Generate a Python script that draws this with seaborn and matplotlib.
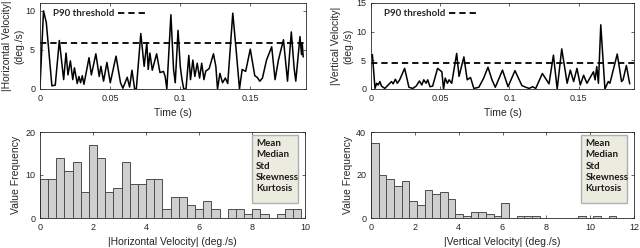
import numpy as np
import pandas as pd
import matplotlib
matplotlib.use('Agg')
import matplotlib.pyplot as plt
from matplotlib.patches import Rectangle
import seaborn as sns

# ---- data ----
# |Horizontal velocity| vs time
h_time = [0.0, 0.0025, 0.0045, 0.0085, 0.0109, 0.0138, 0.0169, 0.0186, 0.0200, 0.0217,
          0.0234, 0.0246, 0.0266, 0.0278, 0.0290, 0.0302, 0.0314, 0.0350, 0.0367, 0.0399,
          0.0423, 0.0435, 0.0454, 0.0478, 0.0502, 0.0543, 0.0575, 0.0592, 0.0623, 0.0640,
          0.0657, 0.0676, 0.0688, 0.0720, 0.0744, 0.0763, 0.0773, 0.0785, 0.0802, 0.0833,
          0.0857, 0.0882, 0.0894, 0.0906, 0.0935, 0.0954, 0.0966, 0.0986, 0.1002, 0.1014,
          0.1027, 0.1043, 0.1063, 0.1075, 0.1092, 0.1106, 0.1123, 0.1140, 0.1155, 0.1171,
          0.1184, 0.1208, 0.1239, 0.1256, 0.1268, 0.1285, 0.1304, 0.1324, 0.1341, 0.1377,
          0.1401, 0.1425, 0.1444, 0.1469, 0.1502, 0.1534, 0.1551, 0.1570, 0.1589, 0.1618,
          0.1655, 0.1679, 0.1703, 0.1739, 0.1768, 0.1795, 0.1815, 0.1827, 0.1857, 0.1868,
          0.1873, 0.1880]
h_vel = [0.2, 10.0, 8.5, 0.4, 0.5, 6.2, 1.2, 4.6, 1.8, 3.6,
         1.2, 2.7, 0.7, 1.6, 0.8, 1.7, 0.6, 4.0, 1.8, 4.5,
         1.6, 2.9, 1.0, 3.4, 0.8, 4.2, 0.8, 0.1, 1.5, 0.25,
         2.4, 0.0, 0.0, 7.1, 2.9, 5.9, 2.5, 4.6, 2.4, 4.5,
         2.1, 2.25, 1.6, 0.0, 9.5, 2.5, 0.8, 7.5, 2.9, 1.2,
         0.0, 0.0, 4.3, 1.2, 3.7, 1.6, 3.3, 1.4, 3.3, 1.2,
         2.3, 2.6, 4.5, 2.9, 0.0, 2.0, 0.8, 1.4, 0.7, 9.7,
         5.0, 0.0, 2.5, 2.25, 5.1, 1.7, 1.5, 1.0, 1.4, 3.7,
         5.4, 1.2, 3.7, 6.3, 1.0, 7.3, 2.7, 1.0, 6.7, 4.4,
         5.9, 4.1]
h_p90 = 5.85

# |Vertical velocity| vs time
v_time = [0.0, 0.0010, 0.0029, 0.0041, 0.0052, 0.0064, 0.0076, 0.0100, 0.0124, 0.0148,
          0.0160, 0.0176, 0.0190, 0.0207, 0.0243, 0.0274, 0.0302, 0.0326, 0.0350, 0.0367,
          0.0381, 0.0398, 0.0410, 0.0426, 0.0445, 0.0481, 0.0512, 0.0524, 0.0536, 0.0552,
          0.0564, 0.0583, 0.0619, 0.0636, 0.0671, 0.0695, 0.0719, 0.0743, 0.0779, 0.0814,
          0.0845, 0.0874, 0.0898, 0.0950, 0.0990, 0.1040, 0.1090, 0.1119, 0.1143, 0.1167,
          0.1190, 0.1238, 0.1286, 0.1318, 0.1345, 0.1378, 0.1417, 0.1440, 0.1464, 0.1488,
          0.1512, 0.1536, 0.1560, 0.1607, 0.1619, 0.1631, 0.1643, 0.1660, 0.1690, 0.1714,
          0.1726, 0.1779, 0.1810, 0.1821, 0.1845, 0.1869]
v_vel = [5.6, 6.0, 0.1, 1.0, 0.7, 1.3, 0.5, 0.1, 0.7, 1.3,
         0.9, 1.7, 1.0, 1.6, 3.6, 0.3, 0.1, 0.5, 1.4, 0.7,
         1.6, 1.0, 1.6, 0.4, 0.5, 3.6, 3.0, 0.0, 1.9, 1.0,
         1.6, 1.0, 6.2, 2.2, 5.6, 1.6, 2.0, 0.1, 0.3, 1.9,
         3.8, 1.6, 0.3, 3.3, 0.4, 3.2, 0.6, 0.3, 0.1, 0.4,
         0.1, 2.7, 0.9, 5.9, 0.0, 7.0, 1.0, 3.3, 1.3, 3.6,
         0.7, 2.4, 1.0, 3.0, 1.6, 3.9, 1.0, 11.2, 0.0, 1.3,
         1.0, 6.1, 1.3, 1.6, 4.1, 0.9]
v_p90 = 4.45

# histogram counts (32 bins each)
h_counts = [9, 9, 14, 11, 13, 6, 17, 14, 6, 7, 13, 8, 8, 9, 9, 2,
            5, 5, 3, 2, 4, 2, 0, 2, 2, 1, 2, 1, 0, 1, 2, 2]
h_bin_width = 0.308
v_counts = [35, 20, 18, 15, 17, 8, 6, 13, 11, 12, 9, 2, 1, 3, 3, 2,
            1, 7, 0, 1, 1, 1, 0, 0, 0, 0, 0, 1, 0, 1, 0, 1]
v_bin_width = 0.35

stats_names = ['Mean', 'Median', 'Std', 'Skewness', 'Kurtosis']

# ---- style ----
sns.set_style('ticks')
plt.rcParams['font.family'] = ['Liberation Sans', 'DejaVu Sans']
ink = '#262626'
plt.rcParams.update({
    'axes.edgecolor': ink, 'axes.linewidth': 0.6, 'axes.labelcolor': ink,
    'xtick.color': ink, 'ytick.color': ink,
    'xtick.direction': 'in', 'ytick.direction': 'in',
    'xtick.top': True, 'ytick.right': True,
    'xtick.major.size': 2.5, 'ytick.major.size': 2.5,
    'xtick.major.width': 0.5, 'ytick.major.width': 0.5,
    'xtick.labelsize': 6.5, 'ytick.labelsize': 6.5,
    'axes.labelsize': 7.5,
})

fig = plt.figure(figsize=(6.4, 2.48), dpi=100)
W, H = 640, 248


def place(x0, y0, x1, y1):
    return fig.add_axes([x0 / W, 1 - y1 / H, (x1 - x0) / W, (y1 - y0) / H])


ax_ht = place(40, 3, 306, 89)
ax_vt = place(371, 3, 634, 89)
ax_hh = place(40, 132, 305, 218)
ax_vh = place(371, 132, 634, 218)

time_ticks = [0, 0.05, 0.1, 0.15]
time_labels = ['0', '0.05', '0.1', '0.15']
calibri_like = ['Lato', 'DejaVu Sans']

for ax, t, v, p90, ymax, yticks, ylab, lab_x in [
        (ax_ht, h_time, h_vel, h_p90, 11, [0, 5, 10], '|Horizontal Velocity|\n(deg./s)', -0.06),
        (ax_vt, v_time, v_vel, v_p90, 15, [0, 5, 10, 15], '|Vertical Velocity|\n(deg./s)', -0.068)]:
    sns.lineplot(x=t, y=v, ax=ax, color='black', linewidth=1.1, sort=False)
    thr = ax.axhline(p90, color='black', linewidth=1.3, dashes=(3.5, 2.2),
                     label='P90 threshold')
    ax.set_xlim(0, 0.19)
    ax.set_ylim(0, ymax)
    ax.set_xticks(time_ticks)
    ax.set_xticklabels(time_labels)
    ax.set_yticks(yticks)
    ax.set_xlabel('Time (s)', labelpad=3.5)
    ax.set_ylabel(ylab, linespacing=1.3)
    ax.yaxis.set_label_coords(lab_x, 0.5)
    ax.legend(handles=[thr], loc='upper left', bbox_to_anchor=(0.025, 1.0),
              frameon=False, markerfirst=False, handlelength=3.0, handletextpad=0.4,
              borderaxespad=0.25, prop={'family': calibri_like, 'weight': 'bold', 'size': 7})

for ax, counts, bw, xmax, xticks, ymax, yticks, xlab, lab_x in [
        (ax_hh, h_counts, h_bin_width, 10, [0, 2, 4, 6, 8, 10], 20, [0, 10, 20],
         '|Horizontal Velocity| (deg./s)', -0.072),
        (ax_vh, v_counts, v_bin_width, 12, [0, 2, 4, 6, 8, 10, 12], 40, [0, 20, 40],
         '|Vertical Velocity| (deg./s)', -0.07)]:
    edges = [i * bw for i in range(len(counts) + 1)]
    hist_df = pd.DataFrame({
        'center': [(edges[i] + edges[i + 1]) / 2 for i in range(len(counts))],
        'count': counts,
    })
    sns.histplot(data=hist_df, x='center', weights='count', bins=edges, ax=ax,
                 color='#cfcfcf', edgecolor='#4d4d4d', linewidth=0.7, alpha=1)
    ax.set_xlim(0, xmax)
    ax.set_ylim(0, ymax)
    ax.set_xticks(xticks)
    ax.set_yticks(yticks)
    ax.set_xlabel(xlab, labelpad=3.5)
    ax.set_ylabel('Value Frequency')
    ax.yaxis.set_label_coords(lab_x, 0.5)
    # stats annotation box
    ax.add_patch(Rectangle((0.80, 0.18), 0.175, 0.78, transform=ax.transAxes,
                           facecolor='#ecebdf', edgecolor='#b0b0b0', linewidth=1.0,
                           zorder=5))
    ax.text(0.815, 0.915, '\n'.join(stats_names), transform=ax.transAxes,
            ha='left', va='top', fontsize=7, linespacing=1.3,
            family=calibri_like, weight='bold', color='#1a1a1a', zorder=6)

fig.savefig('out.png', dpi=100)
